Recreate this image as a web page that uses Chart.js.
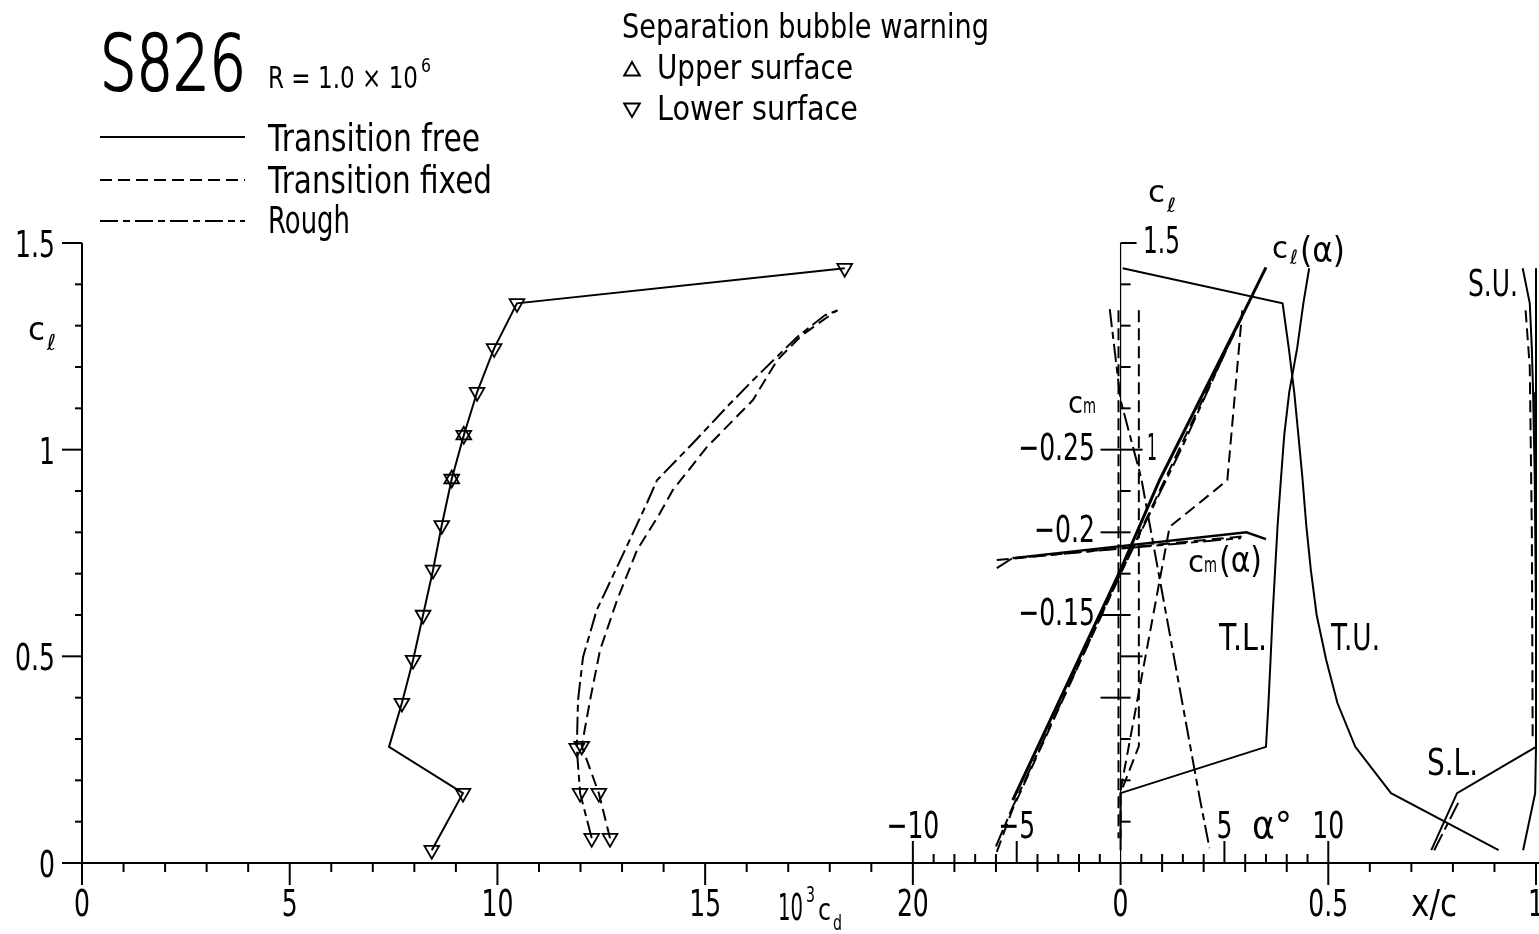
<!DOCTYPE html>
<html><head><meta charset="utf-8">
<script src="https://cdn.jsdelivr.net/npm/chart.js@4.4.1/dist/chart.umd.min.js"></script>
<style>html,body{margin:0;padding:0;background:#fff;overflow:hidden}</style>
</head><body>
<div style="position:relative;width:1539px;height:934px"><canvas id="c" width="1539" height="934"></canvas></div>
<script>
// ---------- Drag polars (10^3 cd vs cl) ----------
const cdFree  = [8.42, 9.17, 7.39, 7.70, 7.97, 8.21, 8.45, 8.66, 8.90, 9.19, 9.51, 9.92, 10.47, 18.36];
const clFree  = [0.031, 0.169, 0.281, 0.387, 0.491, 0.600, 0.709, 0.817, 0.929, 1.035, 1.139, 1.245, 1.354, 1.439];
const freeMarker = [1, 1, 0, 1, 1, 1, 1, 1, 1, 1, 1, 1, 1, 1];
const cdUpperWarn = [8.90, 9.19];
const clUpperWarn = [0.929, 1.035];

const cdFixed = [12.71, 12.44, 12.03, 12.23, 12.47, 12.88, 13.36, 13.91, 14.22, 15.04, 16.15, 16.73, 17.33, 18.17];
const clFixed = [0.060, 0.169, 0.283, 0.394, 0.515, 0.636, 0.757, 0.846, 0.902, 1.006, 1.120, 1.216, 1.277, 1.337];
const fixedMarker = [1, 1, 1, 0, 0, 0, 0, 0, 0, 0, 0, 0, 0, 0];

const cdRough = [12.27, 11.99, 11.91, 11.94, 12.06, 12.39, 12.88, 13.60, 13.84, 14.71, 15.52, 16.15, 17.21, 17.88, 18.19];
const clRough = [0.060, 0.169, 0.278, 0.394, 0.498, 0.612, 0.716, 0.871, 0.926, 1.016, 1.103, 1.168, 1.272, 1.325, 1.337];
const roughMarker = [1, 1, 1, 0, 0, 0, 0, 0, 0, 0, 0, 0, 0, 0, 0];

// ---------- Lift and moment curves ----------
const alphaClFree  = [-5.19, 0.0, 1.875, 6.06, 7.0];
const clAlphaFree  = [0.152, 0.709, 0.926, 1.345, 1.441];
const alphaClFixed = [-5.96, -5.2, 0.0, 3.0, 6.0];
const clAlphaFixed = [0.027, 0.13, 0.70, 1.02, 1.337];
const alphaClRough = [-6.0, -5.2, 0.0, 3.0, 5.8];
const clAlphaRough = [0.04, 0.135, 0.70, 1.01, 1.32];

const alphaCmFree  = [-5.2, 6.06, 7.0];
const cmAlphaFree  = [-0.1844, -0.2, -0.1959];
const alphaCmFixed = [-5.96, 6.0];
const cmAlphaFixed = [-0.1832, -0.1977];
const alphaCmRough = [-5.96, -5.2, 5.8];
const cmAlphaRough = [-0.1783, -0.1844, -0.1965];

// ---------- Transition / separation locations (x/c vs cl) ----------
const xcTU = [0.005, 0.39, 0.405, 0.418, 0.428, 0.438, 0.447, 0.458, 0.472, 0.495, 0.522, 0.565, 0.651, 0.91];
const clTU = [1.439, 1.354, 1.245, 1.139, 1.035, 0.929, 0.817, 0.709, 0.600, 0.491, 0.387, 0.281, 0.169, 0.031];
const xcTL = [0.454, 0.44, 0.425, 0.406, 0.394, 0.386, 0.378, 0.372, 0.366, 0.361, 0.356, 0.35, 0.0, 0.0];
const clTL = [1.439, 1.354, 1.245, 1.139, 1.035, 0.929, 0.817, 0.709, 0.600, 0.491, 0.387, 0.281, 0.169, 0.031];
const xcSU = [0.968, 0.985, 0.99, 0.993, 0.995, 0.997, 0.998, 0.999, 1.0, 1.0, 1.0, 1.0, 0.998, 0.969];
const clSU = [1.439, 1.354, 1.245, 1.139, 1.035, 0.929, 0.817, 0.709, 0.600, 0.491, 0.387, 0.281, 0.169, 0.031];
const xcSL = [1.0, 1.0, 1.0, 0.81, 0.748];
const clSL = [1.439, 0.6, 0.281, 0.169, 0.031];

const xcTUFixed = [-0.005, -0.005, -0.005];
const clTUFixed = [1.337, 0.6, 0.06];
const xcTLFixed = [0.044, 0.044, 0.0, 0.0];
const clTLFixed = [1.337, 0.283, 0.169, 0.06];
const xcTLFixed2 = [0.0, 0.118, 0.257, 0.293];
const clTLFixed2 = [0.176, 0.813, 0.926, 1.337];
const xcTURough = [-0.026, 0.0, 0.05, 0.19, 0.214];
const clTURough = [1.34, 1.12, 0.93, 0.16, 0.036];
const xcSUFixed = [0.975, 0.985, 0.99, 0.992];
const clSUFixed = [1.337, 1.2, 0.8, 0.3];
const xcSLRough = [0.755, 0.815];
const clSLRough = [0.031, 0.15];

// ---------- Tick labels ----------
const cdTickLabels = ['0', '5', '10', '15', '20'];
const cdTickValues = [0, 5, 10, 15, 20];
const clTickLabels = ['0', '0.5', '1', '1.5'];
const clTickValues = [0, 0.5, 1, 1.5];
const alphaTickLabels = ['\u221210', '\u22125', '5', '10'];
const alphaTickValues = [-10, -5, 5, 10];
const cmTickLabels = ['\u22120.25', '\u22120.2', '\u22120.15'];
const cmTickValues = [-0.25, -0.2, -0.15];
const xcTickLabels = ['0', '0.5', '1'];
const xcTickValues = [0, 0.5, 1];

const FONT = '"DejaVu Sans"';
const DASH = [12, 6];
const DASHDOT = [18, 5, 7, 5];

function pts(xs, ys) { return xs.map((x, i) => ({ x: x, y: ys[i] })); }
function ds(xs, ys, o) {
  return Object.assign({
    data: pts(xs, ys), showLine: true, borderColor: '#000', backgroundColor: 'rgba(0,0,0,0)',
    borderWidth: 2, pointRadius: 0, pointBorderWidth: 1.8, pointStyle: 'triangle', pointRotation: 180,
    tension: 0, clip: false, xAxisID: 'x', yAxisID: 'y', fill: false
  }, o || {});
}

const datasets = [
  ds(cdFree, clFree, { pointRadius: freeMarker.map(m => m ? 8.5 : 0) }),
  ds(cdUpperWarn, clUpperWarn, { showLine: false, pointRadius: 8.5, pointRotation: 0 }),
  ds(cdFixed, clFixed, { borderDash: DASH, pointRadius: fixedMarker.map(m => m ? 8.5 : 0) }),
  ds(cdRough, clRough, { borderDash: DASHDOT, pointRadius: roughMarker.map(m => m ? 8.5 : 0) }),
  ds(alphaClFree, clAlphaFree, { xAxisID: 'xa', borderWidth: 3 }),
  ds(alphaClFixed, clAlphaFixed, { xAxisID: 'xa', borderDash: DASH }),
  ds(alphaClRough, clAlphaRough, { xAxisID: 'xa', borderDash: DASHDOT }),
  ds(alphaCmFree, cmAlphaFree, { xAxisID: 'xa', yAxisID: 'ym', borderWidth: 2.5 }),
  ds(alphaCmFixed, cmAlphaFixed, { xAxisID: 'xa', yAxisID: 'ym', borderDash: DASH }),
  ds(alphaCmRough, cmAlphaRough, { xAxisID: 'xa', yAxisID: 'ym', borderDash: DASHDOT }),
  ds(xcTU, clTU, { xAxisID: 'xc' }),
  ds(xcTL, clTL, { xAxisID: 'xc' }),
  ds(xcSU, clSU, { xAxisID: 'xc' }),
  ds(xcSL, clSL, { xAxisID: 'xc' }),
  ds(xcTUFixed, clTUFixed, { xAxisID: 'xc', borderDash: DASH }),
  ds(xcTLFixed, clTLFixed, { xAxisID: 'xc', borderDash: DASH }),
  ds(xcTLFixed2, clTLFixed2, { xAxisID: 'xc', borderDash: DASH }),
  ds(xcTURough, clTURough, { xAxisID: 'xc', borderDash: DASHDOT }),
  ds(xcSUFixed, clSUFixed, { xAxisID: 'xc', borderDash: DASH }),
  ds(xcSLRough, clSLRough, { xAxisID: 'xc', borderDash: DASHDOT })
];

function txt(ctx, s, x, y, size, w, align, weight, strokeW) {
  ctx.save();
  ctx.font = (weight || 'normal') + ' ' + size + 'px ' + FONT;
  const nat = ctx.measureText(s).width;
  const k = w ? w / nat : 0.66;
  ctx.translate(x, y);
  ctx.scale(k, 1);
  ctx.textAlign = align || 'left';
  ctx.textBaseline = 'alphabetic';
  ctx.fillStyle = '#000';
  ctx.fillText(s, 0, 0);
  if (strokeW) { ctx.strokeStyle = '#000'; ctx.lineWidth = strokeW; ctx.lineJoin = 'round'; ctx.strokeText(s, 0, 0); }
  ctx.restore();
}
function seg(ctx, x1, y1, x2, y2) { ctx.beginPath(); ctx.moveTo(x1, y1); ctx.lineTo(x2, y2); ctx.stroke(); }
function tri(ctx, x, y, r, down) {
  ctx.beginPath();
  const s = down ? -1 : 1;
  ctx.moveTo(x, y - s * r);
  ctx.lineTo(x + r * 0.866, y + s * r * 0.5);
  ctx.lineTo(x - r * 0.866, y + s * r * 0.5);
  ctx.closePath(); ctx.stroke();
}

const decor = {
  id: 'decor',
  beforeDatasetsDraw(chart) {
    const ctx = chart.ctx;
    const sx = chart.scales.x, sa = chart.scales.xa, sc = chart.scales.xc, sy = chart.scales.y, sm = chart.scales.ym;
    const y0 = sy.getPixelForValue(0);
    ctx.save();
    ctx.strokeStyle = '#000'; ctx.lineWidth = 2; ctx.lineCap = 'butt';
    seg(ctx, 62, y0, 1539, y0);
    const x0 = sx.getPixelForValue(0);
    seg(ctx, x0, sy.getPixelForValue(1.5), x0, y0 + 22);
    for (let i = 0; i <= 15; i++) {
      const y = sy.getPixelForValue(i / 10);
      if (i % 5 === 0) seg(ctx, x0 - 20, y, x0, y); else seg(ctx, x0 - 7, y, x0, y);
    }
    for (let c = 1; c <= 24; c++) {
      const x = sx.getPixelForValue(c);
      seg(ctx, x, y0, x, y0 + (c % 5 === 0 ? 22 : 9));
    }
    for (let i = 0; i <= 10; i++) {
      const x = sc.getPixelForValue(i / 10);
      seg(ctx, x, y0, x, y0 + (i % 5 === 0 ? 22 : 9));
    }
    for (let a = -10; a <= 10; a++) {
      if (a === 0) continue;
      const x = sa.getPixelForValue(a);
      seg(ctx, x, y0, x, y0 - (a % 5 === 0 ? 22 : 9));
    }
    const xa0 = sa.getPixelForValue(0);
    ctx.lineWidth = 1.2;
    seg(ctx, xa0, sy.getPixelForValue(1.5), xa0, y0);
    ctx.lineWidth = 2;
    for (let i = 1; i <= 15; i++) {
      const y = sy.getPixelForValue(i / 10);
      const len = (i === 5 || i === 10) ? 22 : (i === 15 ? 16 : 10);
      seg(ctx, xa0, y, xa0 + len, y);
    }
    for (let i = 0; i < 4; i++) {
      const y = sm.getPixelForValue(-0.25 + i * 0.05);
      seg(ctx, xa0 - 20, y, xa0, y);
    }
    // legend lines
    ctx.lineWidth = 2;
    seg(ctx, 100, 137, 245, 137);
    ctx.setLineDash(DASH); seg(ctx, 100, 180, 245, 180);
    ctx.setLineDash(DASHDOT); seg(ctx, 100, 221, 245, 221);
    ctx.setLineDash([]);
    tri(ctx, 632, 71, 9, false);
    tri(ctx, 632, 108, 9, true);
    ctx.restore();
  },
  afterDatasetsDraw(chart) {
    const ctx = chart.ctx;
    const sx = chart.scales.x, sa = chart.scales.xa, sc = chart.scales.xc, sy = chart.scales.y, sm = chart.scales.ym;
    // titles / legend
    txt(ctx, 'S826', 100, 90, 76, 146, 'left', '200', 2.2);
    txt(ctx, 'R = 1.0 \u00d7 10', 268, 88, 30, 150);
    txt(ctx, '6', 421, 72, 20, 10);
    txt(ctx, 'Transition free', 268, 151, 37, 212);
    txt(ctx, 'Transition fixed', 268, 193, 37, 224);
    txt(ctx, 'Rough', 268, 233, 37, 82);
    txt(ctx, 'Separation bubble warning', 622, 38, 34, 367);
    txt(ctx, 'Upper surface', 657, 79, 34, 196);
    txt(ctx, 'Lower surface', 657, 120, 34, 201);
    // left cl axis
    clTickValues.forEach((v, i) => txt(ctx, clTickLabels[i], 55, sy.getPixelForValue(v) + 14, 38, null, 'right'));
    txt(ctx, 'c', 28, 340, 32, 17);
    txt(ctx, '\u2113', 47, 350, 22, 9);
    // cd axis
    cdTickValues.forEach((v, i) => txt(ctx, cdTickLabels[i], sx.getPixelForValue(v), 916, 38, null, 'center'));
    txt(ctx, '10', 778, 920, 38, 25);
    txt(ctx, '3', 806, 902, 22, 9);
    txt(ctx, 'c', 818, 920, 30, 13);
    txt(ctx, 'd', 833, 930, 22, 9);
    // alpha axis
    alphaTickValues.forEach((v, i) => txt(ctx, alphaTickLabels[i], sa.getPixelForValue(v), 838, 38, null, 'center'));
    txt(ctx, '\u03b1\u00b0', 1252, 838, 38, 40);
    // x/c axis
    xcTickValues.forEach((v, i) => txt(ctx, xcTickLabels[i], sc.getPixelForValue(v), 916, 38, null, 'center'));
    txt(ctx, 'x/c', 1411, 916, 38, 46);
    // cl axis at alpha plot
    txt(ctx, 'c', 1148, 202, 30, 17);
    txt(ctx, '\u2113', 1167, 212, 20, 9);
    txt(ctx, '1.5', 1143, sy.getPixelForValue(1.5) + 10, 38, 37);
    txt(ctx, '1', 1147, sy.getPixelForValue(1) + 10, 38, 10);
    // cm axis
    txt(ctx, 'c', 1068, 413, 30, 15);
    txt(ctx, 'm', 1083, 413, 22, 13);
    cmTickValues.forEach((v, i) => txt(ctx, cmTickLabels[i], 1095, sm.getPixelForValue(v) + 10, 38, null, 'right'));
    // curve labels
    txt(ctx, 'c', 1272, 258, 30, 16);
    txt(ctx, '\u2113', 1290, 264, 20, 8);
    txt(ctx, '(\u03b1)', 1300, 262, 36, 45);
    txt(ctx, 'c', 1188, 572, 30, 16);
    txt(ctx, 'm', 1204, 572, 22, 13);
    txt(ctx, '(\u03b1)', 1219, 572, 36, 43);
    txt(ctx, 'T.L.', 1219, 650, 37, 48);
    txt(ctx, 'T.U.', 1331, 650, 37, 49);
    txt(ctx, 'S.U.', 1468, 296, 37, 50);
    txt(ctx, 'S.L.', 1427, 775, 37, 51);
  }
};

new Chart(document.getElementById('c'), {
  type: 'scatter',
  data: { datasets: datasets },
  options: {
    responsive: false, animation: false, devicePixelRatio: 1,
    layout: { autoPadding: false, padding: { left: 82, right: 3, top: 243, bottom: 71 } },
    plugins: { legend: { display: false }, tooltip: { enabled: false }, title: { display: false } },
    scales: {
      x:  { type: 'linear', min: 0, max: 35, display: false },
      xa: { type: 'linear', min: -50, max: 20, display: false },
      xc: { type: 'linear', min: -2.5, max: 1.0, display: false },
      y:  { type: 'linear', min: 0, max: 1.5, display: false },
      ym: { type: 'linear', min: -0.375, max: 0, reverse: true, display: false }
    }
  },
  plugins: [decor]
});
</script>
</body></html>
